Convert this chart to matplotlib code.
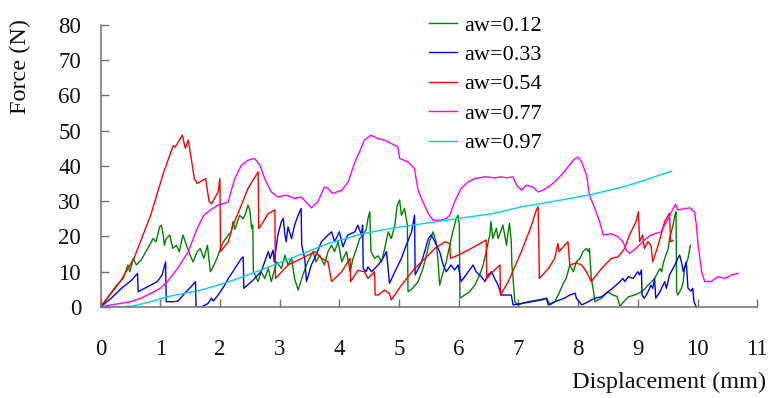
import matplotlib
matplotlib.use("Agg")
import matplotlib.pyplot as plt

# Force-displacement records for five water activities
green_x = [0, 0.15, 0.27, 0.38, 0.46, 0.49, 0.55, 0.60, 0.68, 0.76, 0.82, 0.88, 0.93, 0.99, 1.02, 1.05, 1.07, 1.10, 1.16, 1.21, 1.27, 1.32, 1.38, 1.44, 1.50, 1.55, 1.62, 1.67, 1.73, 1.79, 1.84, 1.90, 1.95, 2.01, 2.06, 2.14, 2.19, 2.22, 2.25, 2.33, 2.39, 2.44, 2.47, 2.50, 2.53, 2.55, 2.56, 2.64, 2.69, 2.75, 2.81, 2.86, 2.95, 3.03, 3.09, 3.14, 3.20, 3.25, 3.31, 3.39, 3.47, 3.56, 3.61, 3.67, 3.75, 3.81, 3.87, 3.92, 3.98, 4.04, 4.12, 4.18, 4.23, 4.29, 4.34, 4.40, 4.45, 4.48, 4.51, 4.53, 4.59, 4.65, 4.71, 4.76, 4.82, 4.87, 4.93, 4.97, 5.01, 5.04, 5.09, 5.14, 5.15, 5.23, 5.32, 5.40, 5.46, 5.51, 5.57, 5.62, 5.65, 5.68, 5.74, 5.79, 5.85, 5.90, 5.96, 5.99, 6.01, 6.02, 6.10, 6.18, 6.27, 6.35, 6.41, 6.46, 6.52, 6.54, 6.57, 6.63, 6.66, 6.74, 6.80, 6.82, 6.85, 6.88, 6.89, 6.91, 6.94, 6.99, 7.16, 7.33, 7.47, 7.53, 7.61, 7.69, 7.75, 7.80, 7.86, 7.92, 7.97, 8.03, 8.08, 8.14, 8.17, 8.19, 8.22, 8.26, 8.28, 8.39, 8.50, 8.58, 8.65, 8.70, 8.84, 8.95, 9.06, 9.11, 9.17, 9.22, 9.28, 9.34, 9.37, 9.40, 9.42, 9.45, 9.51, 9.53, 9.56, 9.59, 9.62, 9.64, 9.65, 9.67, 9.73, 9.76, 9.78, 9.84, 9.88]
green_y = [0, 3.4, 6.2, 8.1, 11.9, 10, 13.8, 11.9, 13.3, 15.7, 17.5, 19.4, 18.5, 22.7, 23.2, 20.4, 17.5, 19.4, 20.4, 16.6, 17.5, 15.7, 20.4, 17.5, 14.7, 12.8, 15.7, 16.6, 13.8, 17.5, 10, 11.9, 13.8, 16.6, 18.5, 20.4, 21.3, 24.2, 22, 26, 25, 27, 28.9, 27.5, 22.3, 23.2, 10, 7.2, 10, 8.1, 10.9, 7.2, 12.8, 10.9, 14.7, 11.9, 13.8, 8.1, 4.8, 9.1, 12.8, 15.7, 12.8, 14.7, 11.9, 15.7, 17.5, 15.7, 18.5, 12.8, 15.7, 10, 13.8, 16.6, 19.4, 20.4, 22, 25.1, 27, 15.7, 13.8, 14.5, 12.8, 16.6, 21.3, 19.4, 23.2, 28.9, 30.3, 26, 27.9, 23.2, 4.3, 5.3, 7.2, 10.9, 14.7, 18.5, 21.3, 18.5, 13.8, 6.2, 10, 12.8, 17.5, 21.3, 25.1, 26, 23.2, 2.5, 3.4, 4.3, 6.2, 9.1, 11.9, 15.7, 20.4, 24.2, 19.4, 22.3, 19.4, 23.2, 17.5, 20.4, 23.7, 18.5, 11.9, 8.1, 1.5, 0.6, 1.5, 2.0, 2.5, 0.6, 1.5, 4.3, 6.7, 8.1, 11.9, 10, 12.8, 13.8, 15.7, 16.6, 15.7, 16.6, 8.1, 4.3, 1.5, 2.5, 4.3, 3.4, 3.0, 0.3, 2.9, 3.4, 4.3, 5.0, 6.2, 7.0, 8.1, 10, 10.9, 10, 12, 13.8, 16.6, 19.4, 21.3, 23.2, 26, 27, 4.3, 3.4, 5.3, 7.2, 10.9, 13.8, 17.5]

blue_x = [0, 0.18, 0.35, 0.52, 0.62, 0.63, 0.68, 0.84, 0.95, 1.03, 1.09, 1.10, 1.22, 1.30, 1.41, 1.52, 1.59, 1.60, 1.69, 1.80, 1.86, 1.89, 1.97, 2.08, 2.14, 2.25, 2.36, 2.39, 2.40, 2.53, 2.69, 2.81, 2.84, 2.89, 2.91, 2.97, 3.03, 3.06, 3.09, 3.11, 3.14, 3.20, 3.25, 3.31, 3.36, 3.37, 3.42, 3.45, 3.53, 3.61, 3.70, 3.81, 3.87, 3.92, 4.00, 4.06, 4.14, 4.26, 4.31, 4.37, 4.39, 4.40, 4.45, 4.48, 4.54, 4.65, 4.73, 4.79, 4.84, 4.93, 5.04, 5.12, 5.21, 5.26, 5.27, 5.37, 5.43, 5.49, 5.54, 5.60, 5.68, 5.74, 5.79, 5.87, 5.93, 5.99, 6.04, 6.16, 6.24, 6.29, 6.38, 6.44, 6.49, 6.55, 6.60, 6.66, 6.71, 6.88, 6.91, 7.05, 7.22, 7.39, 7.47, 7.50, 7.61, 7.77, 7.86, 7.95, 7.97, 8.06, 8.17, 8.28, 8.39, 8.50, 8.61, 8.70, 8.75, 8.78, 8.84, 8.92, 9.00, 9.03, 9.06, 9.07, 9.11, 9.17, 9.22, 9.25, 9.28, 9.30, 9.37, 9.45, 9.48, 9.53, 9.62, 9.67, 9.70, 9.73, 9.76, 9.81, 9.84, 9.89, 9.92, 9.94, 9.98]
blue_y = [0, 2.5, 5.3, 7.6, 9.5, 4.3, 4.8, 6.2, 7.2, 9.0, 12.8, 1.5, 1.5, 1.7, 3.9, 5.8, 7.2, 0, 0, 1.0, 2.5, 1.7, 3.4, 6.2, 8.1, 10.9, 13.8, 14.2, 5.3, 7.2, 10, 15.7, 13.8, 16.1, 12.8, 20.4, 24.2, 25.1, 20.4, 18.5, 22.7, 19.4, 23.2, 26, 27.9, 17.5, 13.8, 7.2, 11.9, 14.7, 18.5, 20.4, 21.3, 18.5, 21.3, 17.1, 20.4, 21.3, 23.2, 20.4, 23.2, 10.9, 10, 11.4, 10, 11.9, 13.8, 15.7, 6.7, 10, 13.8, 17.5, 21.3, 26, 9.1, 12.4, 15.7, 19.4, 20.4, 18.5, 15.7, 11.9, 10, 11.9, 10.5, 11.9, 7.2, 10, 11.9, 10, 8.6, 7.2, 9.1, 10, 8.1, 6.2, 3.4, 3.4, 0.6, 1.0, 1.5, 2.0, 2.5, 0.6, 1.5, 2.5, 3.4, 3.9, 2.5, 0.6, 1.5, 2.5, 2.9, 4.3, 5.8, 7.2, 8.1, 7.2, 8.6, 8.1, 10, 9.1, 10.5, 3.4, 2.5, 4.3, 6.2, 5.3, 8.1, 2.5, 4.3, 7.2, 5.3, 9.1, 11.9, 13.8, 14.7, 12.8, 10, 12.8, 5.3, 4.5, 5.3, 1.5, 0]

red_x = [0, 0.33, 0.56, 0.84, 1.06, 1.22, 1.25, 1.37, 1.42, 1.47, 1.52, 1.57, 1.62, 1.76, 1.82, 1.86, 1.97, 2.00, 2.01, 2.14, 2.22, 2.36, 2.47, 2.64, 2.65, 2.69, 2.81, 2.92, 2.93, 3.14, 3.42, 3.59, 3.70, 3.81, 3.87, 4.04, 4.18, 4.19, 4.31, 4.42, 4.48, 4.59, 4.60, 4.65, 4.76, 4.84, 4.87, 5.04, 5.26, 5.49, 5.60, 5.77, 5.85, 5.86, 5.99, 6.21, 6.46, 6.47, 6.57, 6.69, 6.70, 6.83, 7.05, 7.22, 7.30, 7.33, 7.35, 7.50, 7.61, 7.66, 7.68, 7.83, 7.86, 7.97, 8.06, 8.14, 8.22, 8.39, 8.56, 8.67, 8.78, 8.86, 8.97, 9.01, 9.03, 9.08, 9.11, 9.17, 9.22, 9.25, 9.34, 9.45, 9.51, 9.53, 9.55, 9.59]
red_y = [0, 7.2, 13.8, 26, 38.3, 45.8, 45.3, 48.7, 45, 47.3, 42, 36.4, 35, 36.4, 29.8, 29.3, 32.6, 36.4, 15.7, 18.5, 23.2, 28.9, 33.6, 38.3, 22.3, 23.2, 26.5, 27.5, 8.1, 11.9, 14.2, 15.7, 13.8, 12.8, 7.2, 10, 13.8, 7.2, 10.4, 10, 8.1, 10, 3.4, 3.4, 4.8, 3.8, 2.0, 6.2, 10.9, 14.7, 16.6, 18.5, 18, 13.8, 14.7, 16.6, 19, 8.1, 10, 11.9, 3.4, 7.2, 15.7, 23.2, 27.5, 28.4, 8.1, 10.9, 13.8, 18, 15.7, 18.5, 11.9, 12.5, 11.9, 10, 7.2, 10.9, 13.8, 14.2, 16.6, 20.4, 24.2, 27, 18.5, 20.4, 16.6, 18.5, 17.5, 12.8, 17.5, 24.2, 26, 26.5, 18.5, 18.9]

magenta_x = [0, 0.17, 0.33, 0.50, 0.68, 0.84, 1.00, 1.12, 1.29, 1.47, 1.62, 1.73, 1.84, 1.97, 2.06, 2.14, 2.19, 2.25, 2.36, 2.47, 2.58, 2.67, 2.75, 2.86, 2.97, 3.11, 3.25, 3.36, 3.47, 3.53, 3.64, 3.75, 3.81, 3.89, 4.04, 4.15, 4.26, 4.34, 4.42, 4.53, 4.65, 4.76, 4.87, 4.98, 5.01, 5.15, 5.26, 5.29, 5.32, 5.40, 5.49, 5.57, 5.71, 5.79, 5.85, 5.93, 6.04, 6.16, 6.27, 6.44, 6.60, 6.71, 6.80, 6.91, 6.97, 7.05, 7.13, 7.24, 7.33, 7.41, 7.50, 7.61, 7.72, 7.83, 7.92, 7.99, 8.06, 8.14, 8.19, 8.28, 8.36, 8.42, 8.56, 8.67, 8.75, 8.81, 8.86, 8.97, 9.11, 9.22, 9.39, 9.51, 9.59, 9.63, 9.67, 9.79, 9.87, 9.95, 9.98, 10.01, 10.07, 10.12, 10.23, 10.34, 10.46, 10.57, 10.68]
magenta_y = [0, 0.6, 1.0, 1.5, 2.5, 3.9, 5.3, 7.2, 10.9, 15.7, 22.3, 26, 27.5, 28.9, 29.3, 29.8, 33, 36.4, 40.2, 41.6, 42.1, 40.2, 36.4, 32.6, 31.2, 31.7, 30.8, 31.2, 29.3, 28.1, 29.8, 34, 33.6, 32.2, 33.1, 35.5, 41.1, 44, 47.3, 48.7, 47.7, 47.3, 46.3, 45.4, 42.1, 41.1, 39.2, 35.9, 33.1, 29.8, 26.5, 24.6, 24.6, 25.1, 26, 29.8, 33.6, 35.5, 36.4, 36.9, 36.6, 36.9, 36.6, 36.9, 34.5, 33.1, 34.5, 34, 32.6, 33.1, 34, 35.5, 37.4, 39.7, 41.6, 42.5, 41.1, 37.4, 31.7, 27.9, 24.2, 20.4, 20.8, 19.9, 18.5, 16.1, 15.2, 16.6, 19, 20.4, 21.3, 25.1, 27.9, 29.1, 27.5, 27.9, 28.1, 27, 23.2, 17.5, 10, 7.2, 7.2, 8.6, 8.1, 9.1, 9.5]

cyan_x = [0, 0.30, 0.55, 0.84, 1.12, 1.40, 1.68, 1.97, 2.22, 2.69, 3.25, 3.81, 4.40, 4.87, 5.43, 5.99, 6.58, 7.05, 7.61, 8.17, 8.75, 9.11, 9.56]
cyan_y = [0, 0, 0.3, 1.5, 2.9, 3.9, 4.8, 6.2, 7.6, 10.5, 14.2, 18, 20.8, 22.3, 23.7, 25.1, 26.5, 28.4, 30, 31.7, 34, 35.9, 38.5]

labels = ["aw=0.12", "aw=0.33", "aw=0.54", "aw=0.77", "aw=0.97"]
colors = ["#008000", "#0000FF", "#FF0000", "#FF00FF", "#00CCFF"]
xticks = list(range(0, 12))
yticks = list(range(0, 90, 10))

plt.rcParams["font.family"] = ["Liberation Serif", "DejaVu Serif"]

fig = plt.figure(figsize=(7.68, 3.98), dpi=100)
ax = fig.add_axes([0.1309, 0.2286, 0.8551, 0.7094])

series = [(green_x, green_y), (blue_x, blue_y), (red_x, red_y),
          (magenta_x, magenta_y), (cyan_x, cyan_y)]
for (xs, ys), lab, col in zip(series, labels, colors):
    ax.plot(xs, ys, color=col, lw=1.0, label=lab)

ax.set_xlim(0, 11)
ax.set_ylim(0, 80)
ax.set_xticks(xticks)
ax.set_yticks(yticks)
for side in ("top", "right"):
    ax.spines[side].set_visible(False)
for side in ("left", "bottom"):
    ax.spines[side].set_color("#707070")
    ax.spines[side].set_linewidth(1.1)
ax.tick_params(axis="both", direction="in", length=6, width=1.0,
               color="#707070", labelsize=16.5, labelcolor="#111111")
ax.tick_params(axis="x", pad=23)
ax.tick_params(axis="y", pad=14)

leg = ax.legend(loc="upper left", bbox_to_anchor=(0.47, 1.105),
                frameon=False, fontsize=16, handlelength=1.25,
                handletextpad=0.35, labelspacing=0.4)

fig.text(0.026, 0.832, "Force (N)", rotation=90, ha="center", va="center",
         fontsize=17.5, color="#111111")
fig.text(0.997, 0.038, "Displacement (mm)", ha="right", va="center",
         fontsize=17.5, color="#111111")

fig.savefig("out.png", dpi=100)
